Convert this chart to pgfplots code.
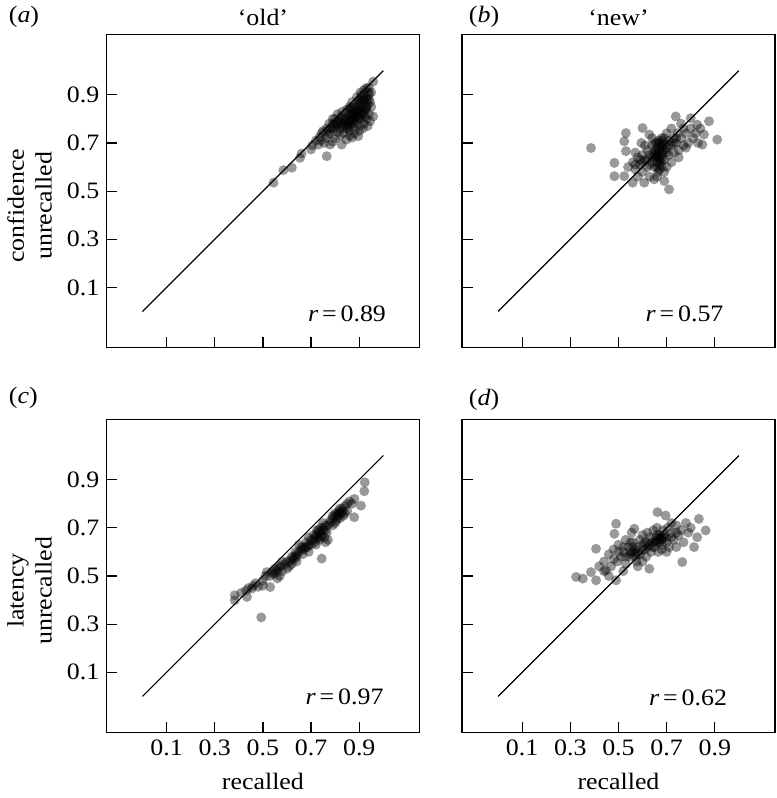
\documentclass[border=0pt]{standalone}
\usepackage{fontspec}
\setmainfont{Liberation Serif}[FakeStretch=1.1]
\usepackage{pgfplots}
\pgfplotsset{compat=1.18}

\pgfplotsset{
  panel/.style={
    scale only axis, width=157pt, height=157pt,
    xmin=-0.15, xmax=1.15, ymin=-0.15, ymax=1.15,
    xtick={0.1,0.3,0.5,0.7,0.9}, ytick={0.1,0.3,0.5,0.7,0.9},
    xtick pos=bottom, ytick pos=left, tick align=inside,
    major tick length=5.3pt,
    axis line style={line width=0.75pt},
    every tick/.style={black, line width=0.6pt},
    /pgf/number format/assume math mode=true,
    /pgf/number format/fixed, /pgf/number format/precision=1,
    tick label style={font=\fontsize{11.8}{14}\selectfont},
    label style={font=\fontsize{11.8}{14}\selectfont},
    xlabel style={yshift=-2pt},
    clip=false,
  },
  dots/.style={only marks, mark=*, mark size=2.5pt, color=black,
    mark options={draw opacity=0, fill=black, fill opacity=0.4}},
  diag/.style={black, line width=0.6pt},
}
\newcommand{\lab}{\fontsize{11.8}{14}\selectfont}

\begin{document}
\begin{tikzpicture}
\path (-53.35pt,16.15pt) rectangle (336.15pt,-382.85pt);

% (a) confidence, old
\begin{axis}[panel, at={(0pt,0pt)}, anchor=north west, xticklabels={}]
\addplot[dots] table {
0.544 0.535
0.585 0.587
0.620 0.597
0.654 0.638
0.661 0.656
0.700 0.673
0.705 0.690
0.730 0.693
0.744 0.741
0.765 0.645
0.779 0.693
0.760 0.720
0.770 0.735
0.790 0.705
0.800 0.720
0.827 0.693
0.847 0.714
0.870 0.722
0.896 0.728
0.958 0.810
0.958 0.955
0.930 0.928
0.780 0.760
0.790 0.780
0.800 0.800
0.805 0.770
0.810 0.745
0.815 0.790
0.820 0.760
0.825 0.810
0.830 0.780
0.835 0.740
0.840 0.800
0.845 0.825
0.850 0.770
0.855 0.790
0.860 0.810
0.860 0.750
0.865 0.840
0.870 0.780
0.875 0.800
0.880 0.760
0.880 0.830
0.885 0.850
0.890 0.790
0.890 0.810
0.895 0.870
0.900 0.830
0.900 0.770
0.905 0.850
0.910 0.800
0.910 0.880
0.915 0.820
0.920 0.860
0.920 0.900
0.925 0.840
0.930 0.880
0.930 0.800
0.935 0.860
0.940 0.900
0.940 0.820
0.945 0.870
0.950 0.910
0.950 0.850
0.945 0.790
0.935 0.770
0.920 0.780
0.900 0.750
0.880 0.740
0.860 0.730
0.840 0.760
0.820 0.730
0.810 0.820
0.800 0.760
0.790 0.800
0.775 0.780
0.765 0.760
0.750 0.750
0.740 0.710
0.755 0.700
0.735 0.725
0.720 0.710
0.870 0.870
0.860 0.850
0.850 0.840
0.890 0.890
0.905 0.910
0.880 0.800
0.870 0.820
0.895 0.820
0.925 0.810
0.915 0.760
0.850 0.800
0.830 0.830
0.910 0.840
0.930 0.850
0.940 0.930
0.900 0.800
0.880 0.780
0.860 0.790
0.870 0.810
0.880 0.820
0.890 0.840
0.900 0.860
0.910 0.870
0.920 0.880
0.930 0.890
0.940 0.910
0.880 0.850
0.870 0.840
0.900 0.880
0.910 0.900
0.920 0.920
0.850 0.780
0.840 0.790
0.830 0.770
0.820 0.790
0.830 0.800
0.860 0.820
0.890 0.830
0.900 0.810
0.920 0.830
0.940 0.880
0.930 0.840
0.910 0.820
0.880 0.810
0.870 0.790
0.860 0.770
0.850 0.760
0.810 0.780
0.800 0.780
0.790 0.760
0.780 0.740
0.770 0.750
};
\addplot[diag] coordinates {(0,0) (1,1)};
\node[anchor=east, font=\lab] at (axis cs:1.04,-0.01) {\textit{r}\,=\,0.89};
\node[anchor=west, font=\lab, xshift=-52.4pt, yshift=8.65pt] at (rel axis cs:0,1) {(\textit{a})};
\node[font=\lab, yshift=8.65pt] at (rel axis cs:0.5,1) {`old'};
\end{axis}
\node[rotate=90, align=center, font=\lab] at (-38.5pt,-85.85pt) {confidence\\unrecalled};

% (b) confidence, new
\begin{axis}[panel, at={(178.3pt,0pt)}, anchor=north west, xticklabels={}, yticklabels={}]
\addplot[dots] table {
0.386 0.679
0.483 0.617
0.483 0.562
0.524 0.562
0.531 0.741
0.524 0.707
0.531 0.666
0.600 0.762
0.628 0.735
0.738 0.810
0.800 0.803
0.827 0.776
0.876 0.790
0.910 0.714
0.855 0.735
0.848 0.693
0.710 0.507
0.690 0.542
0.607 0.535
0.559 0.535
0.648 0.549
0.540 0.600
0.560 0.620
0.570 0.590
0.580 0.640
0.590 0.610
0.600 0.580
0.600 0.650
0.610 0.630
0.620 0.600
0.620 0.670
0.630 0.650
0.630 0.560
0.640 0.620
0.640 0.690
0.645 0.660
0.650 0.600
0.650 0.700
0.655 0.640
0.660 0.680
0.660 0.620
0.665 0.580
0.665 0.710
0.670 0.660
0.670 0.640
0.675 0.690
0.680 0.600
0.680 0.720
0.685 0.660
0.690 0.700
0.690 0.630
0.700 0.680
0.700 0.740
0.710 0.650
0.710 0.710
0.720 0.690
0.720 0.760
0.730 0.660
0.730 0.720
0.740 0.700
0.745 0.740
0.750 0.670
0.760 0.720
0.770 0.760
0.770 0.690
0.780 0.740
0.790 0.700
0.800 0.760
0.810 0.720
0.820 0.740
0.830 0.700
0.840 0.760
0.580 0.560
0.610 0.690
0.700 0.600
0.720 0.620
0.690 0.580
0.750 0.640
0.660 0.560
0.570 0.660
0.595 0.700
0.640 0.720
0.760 0.780
0.780 0.680
0.680 0.680
0.655 0.670
0.670 0.700
0.675 0.620
0.660 0.650
0.660 0.660
0.670 0.670
0.680 0.650
0.660 0.700
0.670 0.630
0.680 0.690
0.650 0.650
0.690 0.670
0.670 0.610
0.680 0.710
0.660 0.640
0.700 0.660
0.640 0.640
0.620 0.630
0.630 0.610
0.690 0.720
0.710 0.690
0.730 0.700
0.600 0.620
0.590 0.630
0.570 0.610
0.740 0.720
0.680 0.630
0.670 0.590
0.660 0.600
};
\addplot[diag] coordinates {(0,0) (1,1)};
\node[anchor=east, font=\lab] at (axis cs:0.965,-0.01) {\textit{r}\,=\,0.57};
\node[anchor=west, font=\lab, yshift=8.65pt] at (rel axis cs:0,1) {(\textit{b})};
\node[font=\lab, yshift=8.65pt] at (rel axis cs:0.5,1) {`new'};
\end{axis}

% (c) latency, old
\begin{axis}[panel, at={(0pt,-193pt)}, anchor=north west, xlabel={recalled}]
\addplot[dots] table {
0.383 0.399
0.383 0.420
0.410 0.430
0.434 0.413
0.440 0.450
0.454 0.448
0.470 0.470
0.480 0.455
0.493 0.328
0.500 0.480
0.510 0.500
0.516 0.516
0.530 0.454
0.530 0.500
0.540 0.520
0.550 0.510
0.560 0.530
0.570 0.500
0.575 0.540
0.580 0.520
0.590 0.550
0.600 0.560
0.600 0.530
0.610 0.540
0.620 0.580
0.630 0.570
0.635 0.600
0.640 0.560
0.650 0.600
0.660 0.620
0.665 0.590
0.670 0.610
0.680 0.640
0.685 0.620
0.690 0.600
0.700 0.650
0.700 0.630
0.710 0.670
0.715 0.640
0.720 0.660
0.725 0.690
0.730 0.680
0.735 0.650
0.740 0.700
0.744 0.572
0.745 0.670
0.750 0.690
0.755 0.660
0.760 0.710
0.765 0.680
0.770 0.650
0.780 0.720
0.790 0.740
0.800 0.760
0.805 0.730
0.810 0.750
0.815 0.770
0.820 0.740
0.825 0.760
0.830 0.780
0.835 0.750
0.840 0.790
0.850 0.770
0.860 0.810
0.870 0.800
0.879 0.744
0.880 0.820
0.907 0.792
0.921 0.852
0.923 0.889
0.560 0.490
0.620 0.550
0.650 0.630
0.690 0.660
0.720 0.630
0.750 0.720
0.800 0.720
0.790 0.710
0.760 0.640
0.640 0.590
0.580 0.560
0.500 0.460
0.460 0.460
0.430 0.440
0.840 0.760
0.850 0.800
0.720 0.670
0.730 0.690
0.740 0.680
0.750 0.700
0.740 0.660
0.760 0.690
0.730 0.660
0.710 0.650
0.800 0.750
0.810 0.760
0.820 0.760
0.830 0.770
0.810 0.740
0.820 0.780
0.790 0.750
0.630 0.580
0.620 0.570
0.610 0.560
0.640 0.580
0.550 0.530
0.560 0.520
0.570 0.540
0.540 0.510
0.670 0.620
0.680 0.620
0.690 0.630
0.660 0.610
0.770 0.710
0.780 0.730
};
\addplot[diag] coordinates {(0,0) (1,1)};
\node[anchor=east, font=\lab] at (axis cs:1.03,0.0) {\textit{r}\,=\,0.97};
\node[anchor=west, font=\lab, xshift=-52.4pt, yshift=10.6pt] at (rel axis cs:0,1) {(\textit{c})};
\end{axis}
\node[rotate=90, align=center, font=\lab] at (-38.5pt,-278.85pt) {latency\\unrecalled};

% (d) latency, new
\begin{axis}[panel, at={(178.3pt,-193pt)}, anchor=north west, yticklabels={}, xlabel={recalled}]
\addplot[dots] table {
0.324 0.496
0.352 0.489
0.386 0.516
0.407 0.482
0.407 0.613
0.420 0.540
0.440 0.560
0.448 0.523
0.460 0.590
0.470 0.540
0.480 0.610
0.483 0.675
0.490 0.482
0.490 0.717
0.495 0.560
0.500 0.630
0.510 0.580
0.520 0.600
0.530 0.550
0.530 0.650
0.540 0.620
0.545 0.580
0.550 0.600
0.555 0.680
0.560 0.640
0.566 0.696
0.570 0.600
0.575 0.560
0.580 0.620
0.590 0.650
0.590 0.590
0.600 0.610
0.600 0.670
0.610 0.640
0.615 0.580
0.620 0.620
0.628 0.530
0.630 0.660
0.635 0.600
0.640 0.640
0.645 0.690
0.650 0.620
0.655 0.660
0.660 0.640
0.662 0.765
0.665 0.600
0.670 0.670
0.675 0.650
0.680 0.630
0.685 0.690
0.690 0.660
0.696 0.751
0.700 0.640
0.705 0.700
0.710 0.620
0.720 0.680
0.730 0.650
0.740 0.710
0.750 0.670
0.760 0.690
0.765 0.558
0.770 0.640
0.780 0.720
0.790 0.680
0.800 0.700
0.814 0.620
0.827 0.661
0.834 0.737
0.862 0.689
0.460 0.500
0.520 0.520
0.580 0.540
0.600 0.560
0.700 0.600
0.740 0.620
0.720 0.720
0.550 0.640
0.500 0.600
0.480 0.570
0.440 0.520
0.660 0.700
0.680 0.610
0.620 0.680
0.660 0.650
0.670 0.660
0.680 0.660
0.690 0.670
0.670 0.640
0.680 0.650
0.700 0.660
0.650 0.640
0.660 0.670
0.560 0.600
0.570 0.610
0.580 0.590
0.570 0.580
0.560 0.620
0.550 0.590
0.600 0.630
0.620 0.640
0.630 0.630
0.640 0.620
0.610 0.610
0.530 0.580
0.520 0.620
0.720 0.660
0.740 0.680
};
\addplot[diag] coordinates {(0,0) (1,1)};
\node[anchor=east, font=\lab] at (axis cs:0.98,-0.006) {\textit{r}\,=\,0.62};
\node[anchor=west, font=\lab, yshift=10pt] at (rel axis cs:0,1) {(\textit{d})};
\end{axis}
\end{tikzpicture}
\end{document}
